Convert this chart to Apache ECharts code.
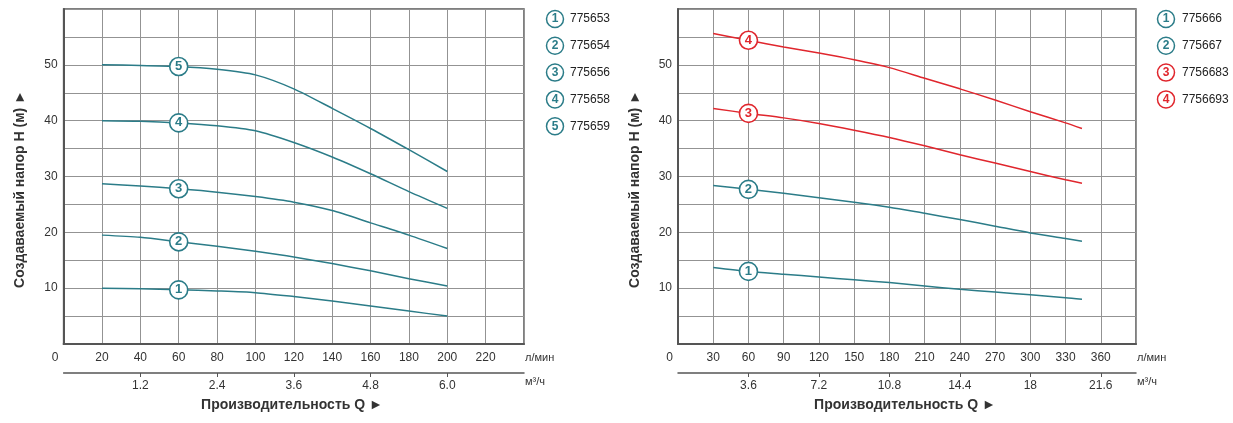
<!DOCTYPE html>
<html>
<head>
<meta charset="utf-8">
<script src="https://cdn.jsdelivr.net/npm/echarts@6.0.0/dist/echarts.min.js"></script>
<style>
  html,body{margin:0;padding:0;background:#fff;}
  #chart{width:1233px;height:423px;}
</style>
</head>
<body>
<div id="chart"></div>
<script>
// Расход, л/мин (точки кривых)
const qLeft  = [20, 40, 60, 80, 100, 120, 140, 160, 180, 200];
const qRight = [30, 60, 90, 120, 150, 180, 210, 240, 270, 300, 330, 344];

// Левый график: напор H, м
const h775653 = [10.0, 9.9, 9.7, 9.5, 9.2, 8.5, 7.7, 6.8, 5.9, 5.0];
const h775654 = [19.5, 19.1, 18.3, 17.5, 16.6, 15.6, 14.4, 13.1, 11.7, 10.4];
const h775656 = [28.7, 28.3, 27.8, 27.2, 26.4, 25.4, 23.9, 21.7, 19.5, 17.1];
const h775658 = [40.0, 39.9, 39.6, 39.1, 38.2, 36.1, 33.5, 30.5, 27.3, 24.3];
const h775659 = [50.0, 49.9, 49.7, 49.2, 48.2, 45.7, 42.2, 38.6, 34.8, 30.9];

// Правый график: напор H, м
const h775666  = [13.7, 13.0, 12.5, 12.0, 11.5, 11.0, 10.4, 9.8, 9.3, 8.8, 8.3, 8.0];
const h775667  = [28.4, 27.7, 27.0, 26.2, 25.4, 24.5, 23.4, 22.3, 21.1, 19.9, 18.9, 18.4];
const h7756683 = [42.2, 41.3, 40.5, 39.5, 38.3, 37.0, 35.5, 33.9, 32.4, 30.9, 29.4, 28.8];
const h7756693 = [55.6, 54.4, 53.2, 52.1, 50.9, 49.5, 47.6, 45.7, 43.7, 41.6, 39.6, 38.6];

const namesLeft  = ['775653', '775654', '775656', '775658', '775659'];
const namesRight = ['775666', '775667', '7756683', '7756693'];

// Подписи второй шкалы, м³/ч
const m3Left  = [1.2, 2.4, 3.6, 4.8, 6.0];
const m3Right = [3.6, 7.2, 10.8, 14.4, 18, 21.6];

const MARK_Q = 60;
const TEAL = '#2b7c88';
const RED = '#e0262d';
const FONT = '"Liberation Sans", Arial, sans-serif';
const TXT = '#333';
const GRIDC = '#939393';

function curve(name, q, h, color, num, xi, yi){
    return {
        type:'line', name:name, xAxisIndex:xi, yAxisIndex:yi,
        smooth:0.25, z:3,
        lineStyle:{color:color, width:1.5},
        itemStyle:{color:color},
        data:q.map((x,i)=> x===MARK_Q ? {
            value:[x,h[i]], symbol:'circle', symbolSize:18,
            itemStyle:{color:'#fff', borderColor:color, borderWidth:1.6},
            label:{show:true, position:'inside', formatter:String(num), color:color,
                   fontWeight:'bold', fontSize:13, fontFamily:FONT}
        } : {value:[x,h[i]], symbol:'none'})
    };
}

function mainX(gi, max, step){
    return {
        type:'value', gridIndex:gi, min:0, max:max, interval:step,
        name:'л/мин', nameLocation:'end', nameGap:1,
        nameTextStyle:{align:'left', verticalAlign:'top', padding:[8,0,0,0], color:TXT, fontSize:11, fontFamily:FONT},
        axisLine:{show:true, lineStyle:{color:'#555', width:2}},
        axisTick:{show:false},
        axisLabel:{color:TXT, fontSize:12, fontFamily:FONT, margin:8, showMaxLabel:false,
            formatter:v=> v===0 ? '{z|0}' : String(v),
            rich:{z:{padding:[0,17,0,0], color:TXT, fontSize:12, fontFamily:FONT}}},
        splitLine:{show:true, lineStyle:{color:GRIDC, width:1}}
    };
}

function flowX(gi, max, ticks, fmt){
    return {
        type:'value', gridIndex:gi, min:0, max:max, position:'bottom', offset:29,
        name:'м³/ч', nameLocation:'end', nameGap:1,
        nameTextStyle:{align:'left', verticalAlign:'top', padding:[3,0,0,0], color:TXT, fontSize:11, fontFamily:FONT},
        axisLine:{show:true, lineStyle:{color:'#555', width:1.5}},
        axisTick:{show:true, length:4, customValues:ticks, lineStyle:{color:'#555'}},
        axisLabel:{color:TXT, fontSize:12, fontFamily:FONT, margin:7, customValues:ticks, formatter:fmt},
        splitLine:{show:false}
    };
}

function headY(gi){
    return {
        type:'value', gridIndex:gi, min:0, max:60, interval:5,
        axisLine:{show:true, lineStyle:{color:'#555', width:2}},
        axisTick:{show:false},
        axisLabel:{color:TXT, fontSize:12, fontFamily:FONT, margin:6,
            formatter:v=> (v%10===0 && v>0 && v<60) ? String(v) : ''},
        splitLine:{show:true, lineStyle:{color:GRIDC, width:1}}
    };
}

function legend(names, colors, cx, tx){
    const els = [];
    names.forEach((n,i)=>{
        const y = 19 + 26.8*i;
        els.push({type:'circle', shape:{cx:cx, cy:y, r:8.5},
            style:{fill:'#fff', stroke:colors[i], lineWidth:1.5}});
        els.push({type:'text', x:cx, y:y,
            style:{text:String(i+1), fill:colors[i], font:'bold 12px '+FONT, textAlign:'center', textVerticalAlign:'middle'}});
        els.push({type:'text', x:tx, y:y,
            style:{text:n, fill:'#222', font:'12px '+FONT, textAlign:'left', textVerticalAlign:'middle'}});
    });
    return els;
}

const chart = echarts.init(document.getElementById('chart'));
const colorsLeft = [TEAL, TEAL, TEAL, TEAL, TEAL];
const colorsRight = [TEAL, TEAL, RED, RED];

chart.setOption({
    animation:false,
    backgroundColor:'#fff',
    grid:[
        {left:63.6, width:460.4, top:9, height:335, show:true, borderColor:'#555', borderWidth:1.5},
        {left:678, width:458, top:9, height:335, show:true, borderColor:'#555', borderWidth:1.5}
    ],
    xAxis:[
        mainX(0, 240, 20),
        flowX(0, 7.2, m3Left, v=>Number(v).toFixed(1)),
        mainX(1, 390, 30),
        flowX(1, 23.4, m3Right, v=>String(v))
    ],
    yAxis:[headY(0), headY(1)],
    series:[
        curve(namesLeft[0], qLeft, h775653, TEAL, 1, 0, 0),
        curve(namesLeft[1], qLeft, h775654, TEAL, 2, 0, 0),
        curve(namesLeft[2], qLeft, h775656, TEAL, 3, 0, 0),
        curve(namesLeft[3], qLeft, h775658, TEAL, 4, 0, 0),
        curve(namesLeft[4], qLeft, h775659, TEAL, 5, 0, 0),
        curve(namesRight[0], qRight, h775666, TEAL, 1, 2, 1),
        curve(namesRight[1], qRight, h775667, TEAL, 2, 2, 1),
        curve(namesRight[2], qRight, h7756683, RED, 3, 2, 1),
        curve(namesRight[3], qRight, h7756693, RED, 4, 2, 1)
    ],
    graphic:[
        ...legend(namesLeft, colorsLeft, 555, 570),
        ...legend(namesRight, colorsRight, 1166, 1182),
        {type:'text', x:292, y:405, style:{text:'Производительность Q ►', fill:TXT, font:'bold 14px '+FONT, textAlign:'center', textVerticalAlign:'middle'}},
        {type:'text', x:905, y:405, style:{text:'Производительность Q ►', fill:TXT, font:'bold 14px '+FONT, textAlign:'center', textVerticalAlign:'middle'}},
        {type:'text', x:20, y:189, rotation:Math.PI/2, style:{text:'Создаваемый напор H (м) ►', fill:TXT, font:'bold 14px '+FONT, textAlign:'center', textVerticalAlign:'middle'}},
        {type:'text', x:635, y:189, rotation:Math.PI/2, style:{text:'Создаваемый напор H (м) ►', fill:TXT, font:'bold 14px '+FONT, textAlign:'center', textVerticalAlign:'middle'}}
    ]
});
</script>
</body>
</html>
